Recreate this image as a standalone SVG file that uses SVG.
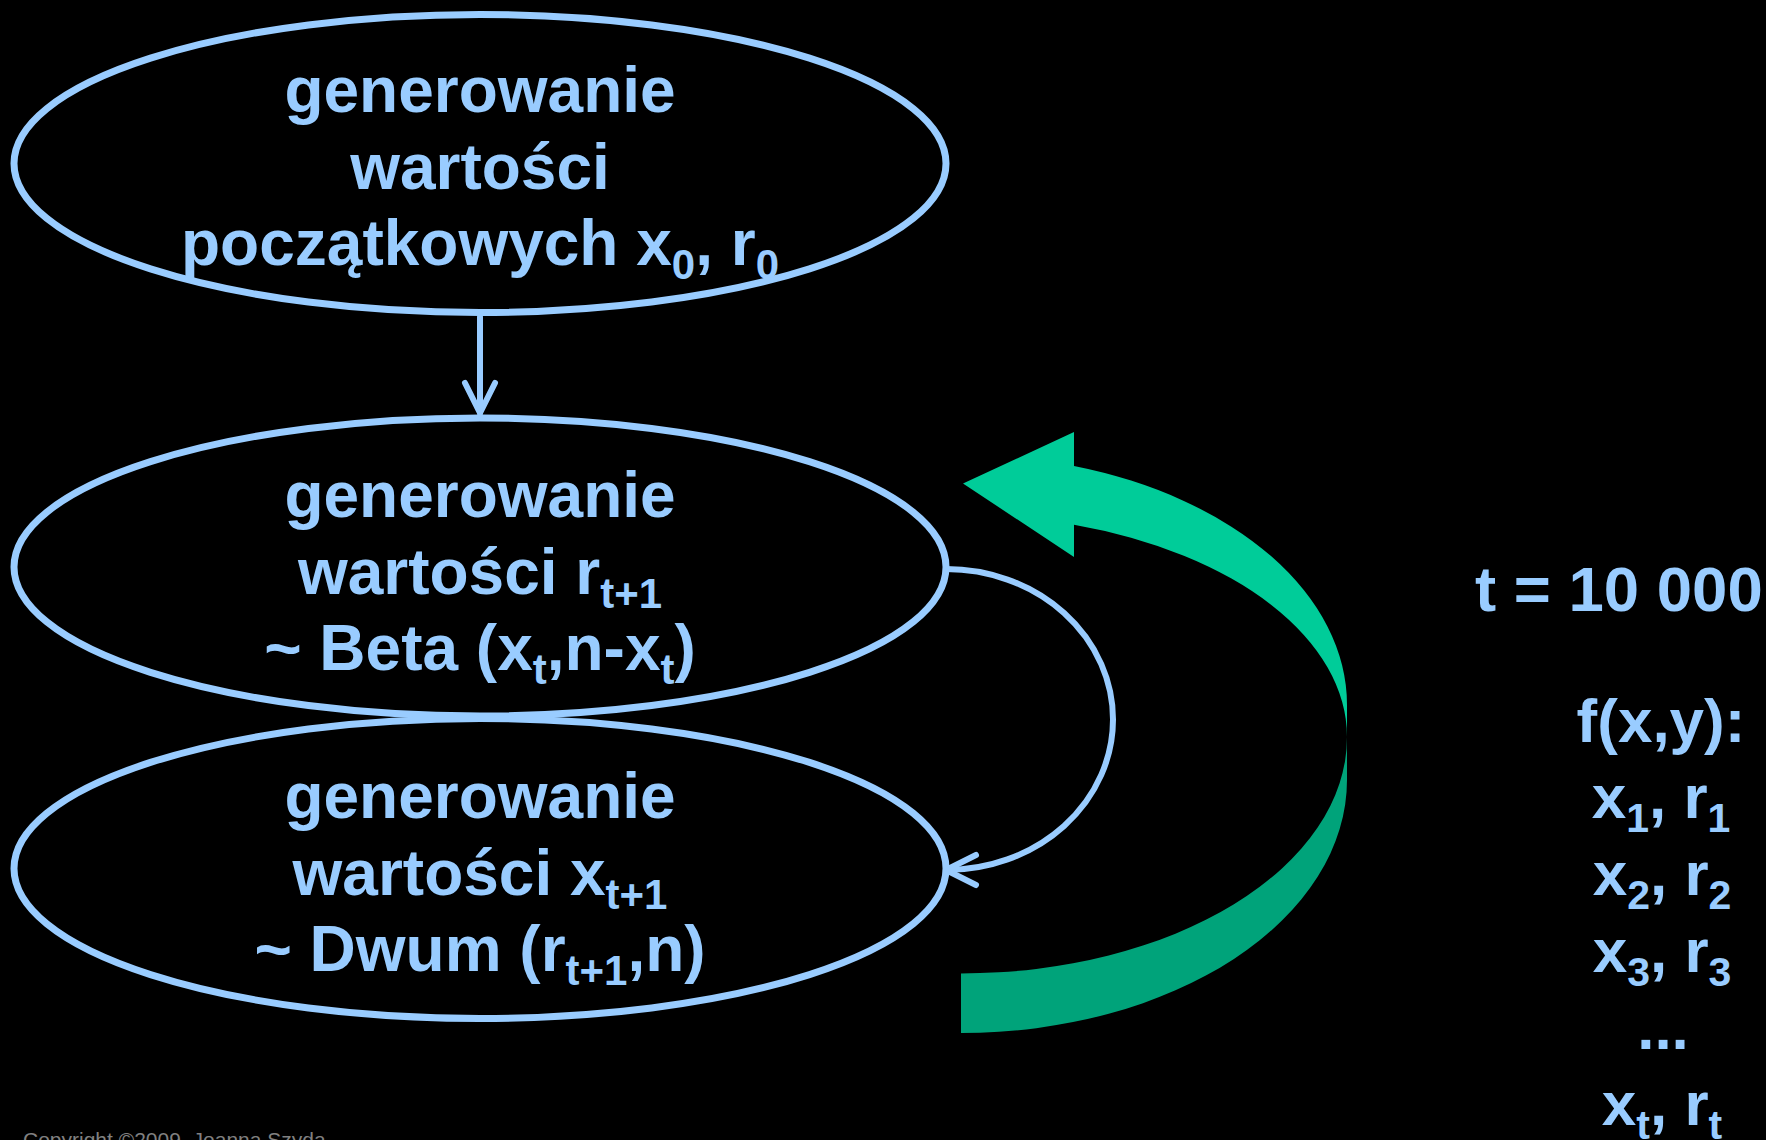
<svg xmlns="http://www.w3.org/2000/svg" width="1766" height="1140" viewBox="0 0 1766 1140">
<style>
.bg{fill:#000000}
.node{fill:none;stroke:#99CCFF;stroke-width:7}
.lbl{font-family:"Liberation Sans",Arial,sans-serif;font-weight:bold;font-size:64px;fill:#99CCFF;text-anchor:middle}
.side{font-family:"Liberation Sans",Arial,sans-serif;font-weight:bold;font-size:62px;fill:#99CCFF;text-anchor:middle}
.sub{font-size:42px}
.conn{fill:none;stroke:#99CCFF;stroke-width:6;stroke-linecap:round}
.copy{font-family:"Liberation Sans",Arial,sans-serif;font-size:21px;fill:#808080}
</style>
<defs>
<marker id="ah" markerUnits="userSpaceOnUse" markerWidth="50" markerHeight="50" viewBox="-40 -25 50 50" refX="0" refY="0" orient="auto" overflow="visible">
<path d="M-30,-15 L0,0 L-30,15" fill="none" stroke="#99CCFF" stroke-width="6" stroke-linecap="round" stroke-linejoin="round"/>
</marker>
</defs>
<rect class="bg" x="0" y="0" width="1766" height="1140"/>

<g id="loop-arrow">
<path d="M1074,432 L963,483.5 L1074,557 L1074,524.7 A386,222 0 0 1 1347,737 L1347,705 A386,250 0 0 0 1074,466 Z" fill="#00CC99"/>
<path d="M1347,737 L1347,780 A386,253 0 0 1 961,1033 L961,973.5 A386,236.5 0 0 0 1347,737 Z" fill="#00A37A"/>
</g>

<g id="connectors">
<path class="conn" d="M480,317 L480,413" marker-end="url(#ah)"/>
<path class="conn" d="M946,569 A167,150.5 0 0 1 946,870" marker-end="url(#ah)"/>
</g>

<g id="node-init">
<ellipse class="node" cx="480" cy="163.5" rx="466" ry="149"/>
<text class="lbl" x="480" y="112">generowanie</text>
<text class="lbl" x="480" y="189">wartości</text>
<text class="lbl" x="480" y="265">początkowych x<tspan class="sub" dy="14">0</tspan><tspan dy="-14">, r</tspan><tspan class="sub" dy="14">0</tspan></text>
</g>

<g id="node-r">
<ellipse class="node" cx="480" cy="567" rx="466" ry="149"/>
<text class="lbl" x="480" y="517">generowanie</text>
<text class="lbl" x="480" y="594">wartości r<tspan class="sub" dy="14">t+1</tspan></text>
<text class="lbl" x="480" y="670">~ Beta (x<tspan class="sub" dy="14">t</tspan><tspan dy="-14">,n-x</tspan><tspan class="sub" dy="14">t</tspan><tspan dy="-14">)</tspan></text>
</g>

<g id="node-x">
<ellipse class="node" cx="480" cy="868.5" rx="466" ry="150"/>
<text class="lbl" x="480" y="818">generowanie</text>
<text class="lbl" x="480" y="895">wartości x<tspan class="sub" dy="14">t+1</tspan></text>
<text class="lbl" x="480" y="971">~ Dwum (r<tspan class="sub" dy="14">t+1</tspan><tspan dy="-14">,n)</tspan></text>
</g>

<g id="side-text">
<text class="side" x="1475" y="611" style="text-anchor:start;font-size:63.5px">t = 10 000</text>
<text class="side" x="1661" y="742">f(x,y):</text>
<text class="side" x="1661" y="818">x<tspan font-size="41" dy="14">1</tspan><tspan dy="-14">, r</tspan><tspan font-size="41" dy="14">1</tspan></text>
<text class="side" x="1662" y="895">x<tspan font-size="41" dy="14">2</tspan><tspan dy="-14">, r</tspan><tspan font-size="41" dy="14">2</tspan></text>
<text class="side" x="1662" y="972">x<tspan font-size="41" dy="14">3</tspan><tspan dy="-14">, r</tspan><tspan font-size="41" dy="14">3</tspan></text>
<text class="side" x="1663" y="1049">...</text>
<text class="side" x="1662" y="1125">x<tspan font-size="41" dy="14">t</tspan><tspan dy="-14">, r</tspan><tspan font-size="41" dy="14">t</tspan></text>
</g>

<text class="copy" x="23" y="1147">Copyright ©2009,  Joanna Szyda</text>
</svg>
